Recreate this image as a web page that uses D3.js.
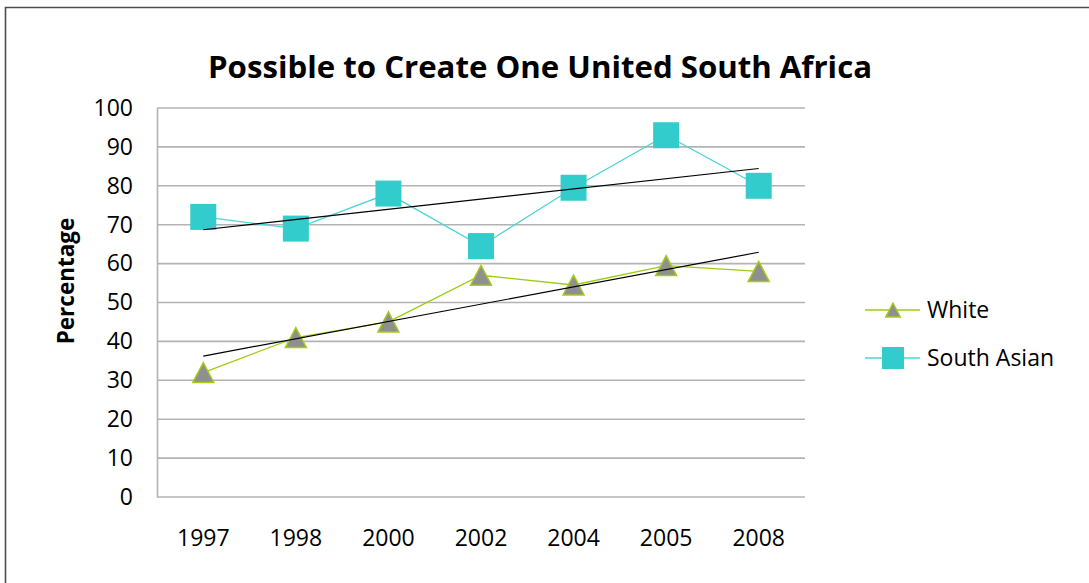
<!DOCTYPE html>
<html>
<head>
<meta charset="utf-8">
<script src="https://cdn.jsdelivr.net/npm/d3@7"></script>
<style>
  html, body { margin: 0; padding: 0; background: #fff; }
  svg { display: block; }
  text { font-family: "Open Sans", "Noto Sans", sans-serif; fill: #000; }
</style>
</head>
<body>
<svg id="chart" width="1089" height="583"></svg>
<script>
// Survey years (categorical axis)
const years = ["1997", "1998", "2000", "2002", "2004", "2005", "2008"];
// Share agreeing it is possible to create one united South Africa (%)
const whiteValues = [32, 41, 45, 57, 54.5, 59.5, 58];
const southAsianValues = [72, 69, 78, 64.5, 79.5, 93, 80];
const yTicks = [0, 10, 20, 30, 40, 50, 60, 70, 80, 90, 100];
const seriesNames = ["White", "South Asian"];

const svg = d3.select("#chart");
const W = 1089, H = 583;
const plot = { left: 157, right: 805, top: 108, bottom: 497 };

// chart frame
svg.append("path")
  .attr("d", `M5.5,${H} L5.5,7.5 L${W},7.5`)
  .attr("fill", "none").attr("stroke", "#4d4d4d").attr("stroke-width", 1.6);

const x = d3.scaleBand().domain(years).range([plot.left, plot.right]);
const cx = d => x(d) + x.bandwidth() / 2;
const y = d3.scaleLinear().domain([0, 100]).range([plot.bottom, plot.top]);

// horizontal gridlines
svg.append("g").selectAll("line").data(yTicks).join("line")
  .attr("x1", plot.left).attr("x2", plot.right)
  .attr("y1", d => y(d)).attr("y2", d => y(d))
  .attr("stroke", "#b3b3b3").attr("stroke-width", 1.6);

// y axis
const yAxis = svg.append("g").attr("transform", `translate(${plot.left},0)`)
  .call(d3.axisLeft(y).tickValues(yTicks).tickSize(0).tickPadding(24));
yAxis.select(".domain").attr("stroke", "#b3b3b3").attr("stroke-width", 1.6);
yAxis.selectAll("text").style("font-size", "23px").attr("fill", "#000");

// x axis (labels only)
const xAxis = svg.append("g").attr("transform", `translate(0,${plot.bottom})`)
  .call(d3.axisBottom(x).tickSize(0).tickPadding(33));
xAxis.select(".domain").remove();
xAxis.selectAll("text").style("font-size", "23px").attr("fill", "#000");

// title
svg.append("text")
  .attr("x", 540).attr("y", 78).attr("text-anchor", "middle")
  .style("font-size", "31.2px").style("font-weight", "bold")
  .text("Possible to Create One United South Africa");

// y axis title
svg.append("text")
  .attr("transform", "translate(74,281) rotate(-90)")
  .attr("text-anchor", "middle")
  .style("font-size", "22.5px").style("font-weight", "bold")
  .text("Percentage");

// least-squares trend over category index
function trend(vals) {
  const n = vals.length;
  const xs = vals.map((_, i) => i + 1);
  const mx = d3.mean(xs), my = d3.mean(vals);
  const b = d3.sum(xs, (xi, i) => (xi - mx) * (vals[i] - my)) / d3.sum(xs, xi => (xi - mx) ** 2);
  const a = my - b * mx;
  return [a + b * 1, a + b * n];
}

const line = d3.line().x((d, i) => cx(years[i])).y(d => y(d));
const triPath = "M0,-10 L10.5,10 L-10.5,10 Z";

// South Asian series
svg.append("path").datum(southAsianValues).attr("d", line)
  .attr("fill", "none").attr("stroke", "#4fd3d8").attr("stroke-width", 1.3);
// White series
svg.append("path").datum(whiteValues).attr("d", line)
  .attr("fill", "none").attr("stroke", "#9ccc10").attr("stroke-width", 1.3);

// markers
svg.append("g").selectAll("rect").data(southAsianValues).join("rect")
  .attr("x", (d, i) => cx(years[i]) - 13).attr("y", d => y(d) - 13)
  .attr("width", 26).attr("height", 26).attr("fill", "#33cccc");
svg.append("g").selectAll("path").data(whiteValues).join("path")
  .attr("d", triPath)
  .attr("transform", (d, i) => `translate(${cx(years[i])},${y(d)})`)
  .attr("fill", "#8f8f8f").attr("stroke", "#a4cc1a").attr("stroke-width", 1.5);

// trendlines
[southAsianValues, whiteValues].forEach(vals => {
  const [y0, y1] = trend(vals);
  svg.append("line")
    .attr("x1", cx(years[0])).attr("x2", cx(years[years.length - 1]))
    .attr("y1", y(y0)).attr("y2", y(y1))
    .attr("stroke", "#000").attr("stroke-width", 1.2);
});

// legend
const legend = svg.append("g");
const legY = [310, 358];
seriesNames.forEach((name, i) => {
  const g = legend.append("g").attr("transform", `translate(0,${legY[i]})`);
  g.append("line").attr("x1", 865).attr("x2", 920).attr("y1", 0).attr("y2", 0)
    .attr("stroke", i === 0 ? "#9ccc10" : "#4fd3d8").attr("stroke-width", 1.3);
  if (i === 0) {
    g.append("path").attr("d", triPath).attr("transform", "translate(893,0) scale(0.7)")
      .attr("fill", "#8f8f8f").attr("stroke", "#a4cc1a").attr("stroke-width", 2);
  } else {
    g.append("rect").attr("x", 882).attr("y", -11).attr("width", 22).attr("height", 22)
      .attr("fill", "#33cccc");
  }
  g.append("text").attr("x", 927).attr("y", 0).attr("dy", "0.35em")
    .style("font-size", "23px").text(name);
});
</script>
</body>
</html>
